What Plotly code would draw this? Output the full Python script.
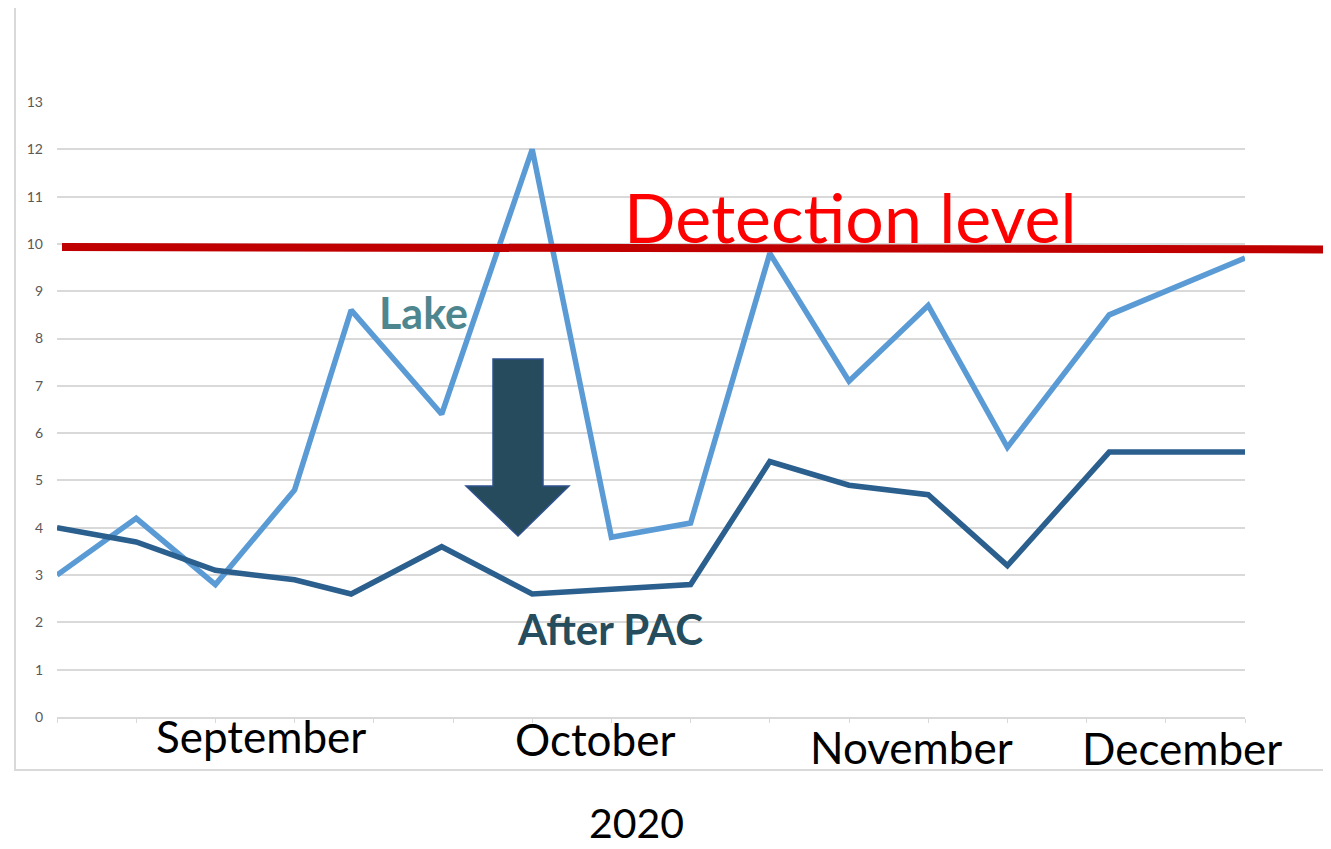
import plotly.graph_objects as go

# ---- data ----
dates = ["2020-09-01", "2020-09-08", "2020-09-15", "2020-09-22", "2020-09-27",
         "2020-10-05", "2020-10-13", "2020-10-20", "2020-10-27", "2020-11-03",
         "2020-11-10", "2020-11-17", "2020-11-24", "2020-12-03", "2020-12-15"]
lake = [3.0, 4.2, 2.8, 4.8, 8.6, 6.4, 12.0, 3.8, 4.1, 9.8, 7.1, 8.7, 5.7, 8.5, 9.7]
after_pac = [4.0, 3.7, 3.1, 2.9, 2.6, 3.6, 2.6, 2.7, 2.8, 5.4, 4.9, 4.7, 3.2, 5.6, 5.6]
y_ticks = list(range(0, 14))
months = ["September", "October", "November", "December"]
year_label = "2020"

OFF = 8                      # page body margin
W, H = 1331 - OFF, 849 - OFF
L, R, T, B = 57, 1245, 102, 717   # plot area in page pixels


def px(x):
    return (x - L) / (R - L)


def py(y):
    return (B - y) / (B - T)


fig = go.Figure()
fig.add_trace(go.Scatter(x=dates, y=lake, mode="lines", name="Lake",
                         line=dict(color="#5b9bd5", width=5.5)))
fig.add_trace(go.Scatter(x=dates, y=after_pac, mode="lines", name="After PAC",
                         line=dict(color="#2b5f8e", width=5.5)))

shapes = [
    # chart border
    dict(type="rect", xref="paper", yref="paper", x0=px(15), x1=px(1345), y0=py(770), y1=py(-5),
         line=dict(color="#d9d9d9", width=2), layer="below"),
    # detection level line (slightly slanted, extends beyond plot)
    dict(type="line", xref="paper", yref="paper", x0=px(62), x1=px(1340),
         y0=py(247), y1=py(249.5), line=dict(color="#c00000", width=8)),
    # down arrow
    dict(type="path", xref="paper", yref="paper",
         path=("M {a},{t} L {b},{t} L {b},{s} L {hr},{s} L {tx},{ty} L {hl},{s} L {a},{s} Z").format(
             a=px(493), b=px(543), t=py(359), s=py(486), hr=px(569), hl=px(466),
             tx=px(518), ty=py(536)),
         fillcolor="#264b5c", line=dict(color="#2f528f", width=1.5)),
]

font_family = "Lato, 'Open Sans', sans-serif"
annotations = [
    dict(text="Detection level", x=px(850), y=py(216), font=dict(size=68, color="#ff0000", family=font_family)),
    dict(text="<b>Lake</b>", x=px(423), y=py(312), font=dict(size=43, color="#4e868f", family=font_family)),
    dict(text="<b>After PAC</b>", x=px(610), y=py(629), font=dict(size=42, color="#264d5d", family=font_family)),
    dict(text=months[0], x=px(261), y=py(736), font=dict(size=44, color="#000000", family=font_family)),
    dict(text=months[1], x=px(595), y=py(739), font=dict(size=44, color="#000000", family=font_family)),
    dict(text=months[2], x=px(911), y=py(747), font=dict(size=44, color="#000000", family=font_family)),
    dict(text=months[3], x=px(1182), y=py(748), font=dict(size=44, color="#000000", family=font_family)),
    dict(text=year_label, x=px(636), y=py(822), font=dict(size=41, color="#000000", family=font_family)),
]
for a in annotations:
    a.update(xref="paper", yref="paper", showarrow=False, xanchor="center", yanchor="middle")

fig.update_layout(
    width=W, height=H,
    margin=dict(l=L - OFF, r=W + OFF - R, t=T - OFF, b=H + OFF - B),
    paper_bgcolor="white", plot_bgcolor="white",
    showlegend=False,
    shapes=shapes,
    annotations=annotations,
    xaxis=dict(type="date", range=[dates[0], dates[-1]], showticklabels=False,
               tick0=dates[0], dtick=7 * 86400000, ticks="outside", ticklen=4,
               tickcolor="#d9d9d9", showgrid=False, zeroline=False,
               showline=True, linecolor="#d9d9d9", linewidth=1.5),
    yaxis=dict(range=[0, 13], tickvals=y_ticks, showgrid=True, gridcolor="#d9d9d9",
               gridwidth=1.5, zeroline=False, showline=False,
               tickfont=dict(size=14, color="#595959", family=font_family),
               ticklabelstandoff=13),
)

fig.write_html("out.html")
